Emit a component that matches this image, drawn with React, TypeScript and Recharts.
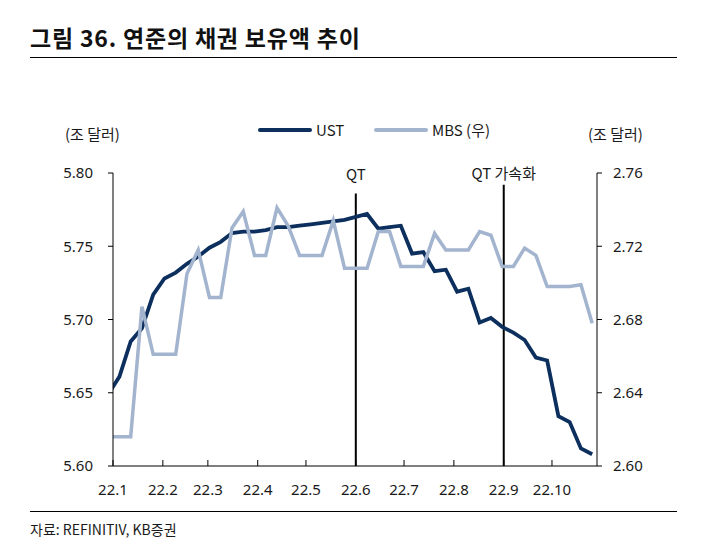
import React from 'react';
import { LineChart, Line, XAxis, YAxis, ReferenceLine } from 'recharts';

// weekly (Wednesday) observations, trillion USD
const weekDates = [
  '2021-12-29', '2022-01-05', '2022-01-12', '2022-01-19', '2022-01-26',
  '2022-02-02', '2022-02-09', '2022-02-16', '2022-02-23',
  '2022-03-02', '2022-03-09', '2022-03-16', '2022-03-23', '2022-03-30',
  '2022-04-06', '2022-04-13', '2022-04-20', '2022-04-27',
  '2022-05-04', '2022-05-11', '2022-05-18', '2022-05-25',
  '2022-06-01', '2022-06-08', '2022-06-15', '2022-06-22', '2022-06-29',
  '2022-07-06', '2022-07-13', '2022-07-20', '2022-07-27',
  '2022-08-03', '2022-08-10', '2022-08-17', '2022-08-24', '2022-08-31',
  '2022-09-07', '2022-09-14', '2022-09-21', '2022-09-28',
  '2022-10-05', '2022-10-12', '2022-10-19', '2022-10-26',
];

const ustValues = [
  5.649, 5.661, 5.685, 5.694, 5.717,
  5.728, 5.732, 5.738, 5.743,
  5.749, 5.753, 5.759, 5.760, 5.760,
  5.761, 5.763, 5.763, 5.764,
  5.765, 5.766, 5.767, 5.768,
  5.770, 5.772, 5.762, 5.763, 5.764,
  5.745, 5.746, 5.733, 5.734,
  5.719, 5.721, 5.698, 5.701, 5.695,
  5.691, 5.686, 5.674, 5.672,
  5.634, 5.630, 5.612, 5.608,
];

const mbsValues = [
  2.616, 2.616, 2.616, 2.687, 2.661,
  2.661, 2.661, 2.705, 2.718,
  2.692, 2.692, 2.730, 2.739, 2.715,
  2.715, 2.741, 2.731, 2.715,
  2.715, 2.715, 2.734, 2.708,
  2.708, 2.708, 2.728, 2.728, 2.709,
  2.709, 2.709, 2.727, 2.718,
  2.718, 2.718, 2.728, 2.726, 2.709,
  2.709, 2.719, 2.715, 2.698,
  2.698, 2.698, 2.699, 2.678,
];

const monthStarts = [
  '2022-01-01', '2022-02-01', '2022-03-01', '2022-04-01', '2022-05-01',
  '2022-06-01', '2022-07-01', '2022-08-01', '2022-09-01', '2022-10-01',
];
const monthLabels = ['22.1', '22.2', '22.3', '22.4', '22.5', '22.6', '22.7', '22.8', '22.9', '22.10'];
const axisEnd = '2022-10-29';

const leftTicks = [5.6, 5.65, 5.7, 5.75, 5.8];
const rightTicks = [2.6, 2.64, 2.68, 2.72, 2.76];

const qtDate = '2022-06-01';
const qtFastDate = '2022-09-01';

const DAY = 86400000;
const toDay = (s: string) => (Date.parse(s) - Date.parse('2022-01-01')) / DAY;

const data = weekDates.map((d, i) => ({ day: toDay(d), ust: ustValues[i], mbs: mbsValues[i] }));
const xTicks = monthStarts.map(toDay);

const UST_COLOR = '#0c2f5e';
const MBS_COLOR = '#a3b4ce';
const TEXT = '#1a1a1a';
const KR = '"Noto Sans CJK KR", "Noto Sans", sans-serif';
const tickStyle = { fill: TEXT, fontSize: 15, fontFamily: '"Noto Sans", sans-serif' };

const App: React.FC = () => {
  return (
    <div style={{ position: 'absolute', left: 0, top: 0, width: 702, height: 553, background: '#fff', fontFamily: KR, color: TEXT }}>
      <div style={{ position: 'absolute', left: 30, top: 25, fontSize: 23, fontWeight: 700, lineHeight: '24px', letterSpacing: 0.8, color: '#111' }}>
        그림 36. 연준의 채권 보유액 추이
      </div>
      <div style={{ position: 'absolute', left: 30, top: 57, width: 647, height: 1, background: '#000' }} />

      <div style={{ position: 'absolute', left: 65, top: 124, fontSize: 15, lineHeight: '20px' }}>(조 달러)</div>
      <div style={{ position: 'absolute', left: 588, top: 124, fontSize: 15, lineHeight: '20px' }}>(조 달러)</div>

      <div style={{ position: 'absolute', left: 258, top: 128, width: 54, height: 4, background: UST_COLOR, borderRadius: 2 }} />
      <div style={{ position: 'absolute', left: 316, top: 120, fontSize: 15, lineHeight: '20px' }}>UST</div>
      <div style={{ position: 'absolute', left: 374, top: 128, width: 54, height: 4, background: MBS_COLOR, borderRadius: 2 }} />
      <div style={{ position: 'absolute', left: 432, top: 120, fontSize: 15, lineHeight: '20px' }}>MBS (우)</div>

      <div style={{ position: 'absolute', left: 0, top: 0 }}>
        <LineChart width={702} height={553} data={data} margin={{ top: 173, right: 0, bottom: 57, left: 0 }}>
          <XAxis
            dataKey="day"
            type="number"
            domain={[0, toDay(axisEnd)]}
            allowDataOverflow
            ticks={xTicks}
            interval={0}
            tickFormatter={(v: number) => monthLabels[xTicks.indexOf(v)] ?? ''}
            tick={tickStyle}
            tickSize={-6}
            tickMargin={24}
            height={30}
            axisLine={{ stroke: '#000' }}
            tickLine={{ stroke: '#000' }}
          />
          <YAxis
            yAxisId="left"
            domain={[5.6, 5.8]}
            ticks={leftTicks}
            interval={0}
            tickFormatter={(v: number) => v.toFixed(2)}
            tick={tickStyle}
            width={113}
            tickSize={5}
            tickMargin={15}
            axisLine={{ stroke: '#000' }}
            tickLine={{ stroke: '#000' }}
          />
          <YAxis
            yAxisId="right"
            orientation="right"
            domain={[2.6, 2.76]}
            ticks={rightTicks}
            interval={0}
            tickFormatter={(v: number) => v.toFixed(2)}
            tick={tickStyle}
            width={105}
            tickSize={5}
            tickMargin={11}
            axisLine={{ stroke: '#000' }}
            tickLine={{ stroke: '#000' }}
          />
          <ReferenceLine
            yAxisId="left"
            segment={[{ x: toDay(qtDate), y: 5.786 }, { x: toDay(qtDate), y: 5.6 }]}
            stroke="#000"
            strokeWidth={2}
            label={{ value: 'QT', position: 'top', offset: 14, fill: TEXT, fontSize: 15, fontFamily: KR }}
          />
          <ReferenceLine
            yAxisId="left"
            segment={[{ x: toDay(qtFastDate), y: 5.792 }, { x: toDay(qtFastDate), y: 5.6 }]}
            stroke="#000"
            strokeWidth={2}
            label={{ value: 'QT 가속화', position: 'top', offset: 6, fill: TEXT, fontSize: 15, fontFamily: KR }}
          />
          <Line yAxisId="left" type="linear" dataKey="ust" stroke={UST_COLOR} strokeWidth={3.8} dot={false} isAnimationActive={false} />
          <Line yAxisId="right" type="linear" dataKey="mbs" stroke={MBS_COLOR} strokeWidth={3.5} dot={false} isAnimationActive={false} />
        </LineChart>
      </div>

      <div style={{ position: 'absolute', left: 30, top: 511, width: 647, height: 1, background: '#000' }} />
      <div style={{ position: 'absolute', left: 30, top: 519, fontSize: 14, lineHeight: '20px' }}>자료: REFINITIV, KB증권</div>
    </div>
  );
};

export default App;
